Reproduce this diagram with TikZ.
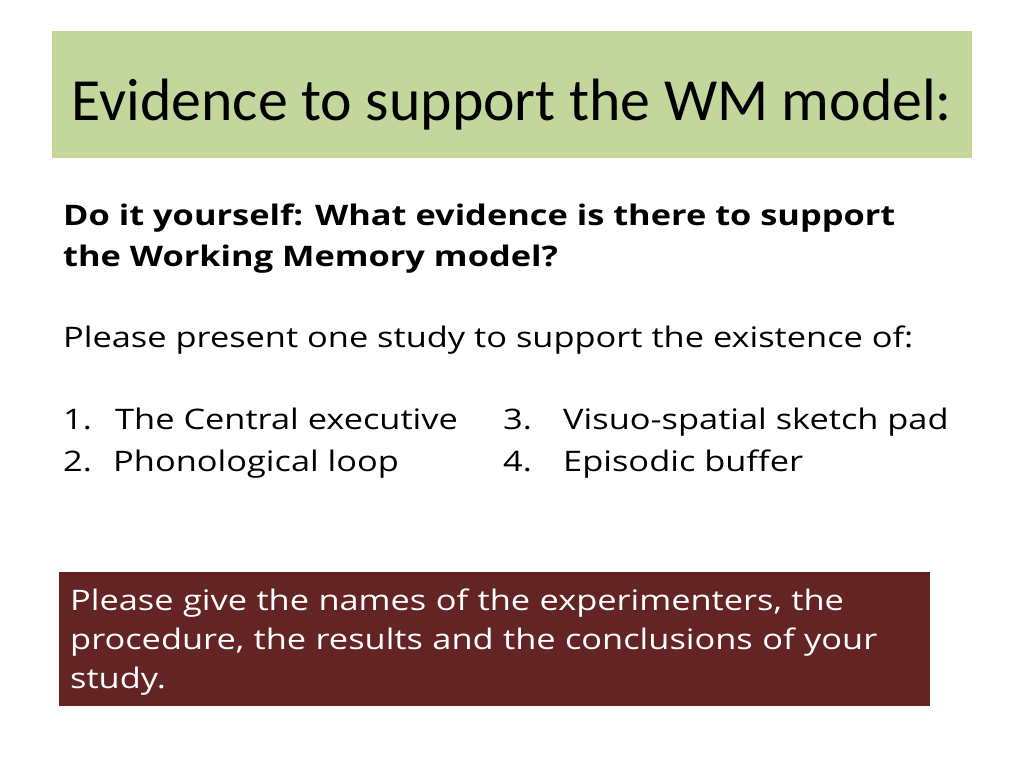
\documentclass[tikz,border=0pt]{standalone}
\usepackage{fontspec}
\setmainfont{Carlito}
\newfontfamily\comicfont[FakeStretch=1.215]{Open Sans}
\usetikzlibrary{positioning}
\definecolor{titlegreen}{RGB}{195,214,155}
\definecolor{boxred}{RGB}{99,36,35}
\tikzset{
    titlebox/.style={
           rectangle,
           fill=titlegreen,
           minimum width=920bp,
           text height=89bp,
           text depth=38bp,
           inner sep=0pt,
           font=\fontsize{60}{70}\selectfont,
           },
    asktext/.style={
           anchor=base west,
           inner sep=0pt,
           font=\comicfont\fontsize{28.4}{42}\selectfont,
           },
    askbold/.style={
           asktext,
           font=\comicfont\bfseries\fontsize{28.4}{42}\selectfont,
           },
    taskbox/.style={
           rectangle,
           fill=boxred,
           text=white,
           anchor=north west,
           minimum width=871bp,
           minimum height=134bp,
           text width=849bp,
           inner xsep=11bp,
           inner ysep=0pt,
           align=left,
           font=\comicfont\fontsize{28.4}{39}\selectfont,
           },
}
\begin{document}
\begin{tikzpicture}[x=1bp,y=-1bp]
    \useasboundingbox[fill=white] (0,0) rectangle (1024,768);
    \node[titlebox] (title) at (512,94.5) {Evidence to support the WM model:};
    % question and request
    \node[askbold] (ask1) at (63,225) {Do it yourself: What evidence is there to support};
    \node[askbold] (ask2) at (63,266) {the Working Memory model?};
    \node[asktext] (present) at (63,347) {Please present one study to support the existence of:};
    % the four components
    \node[asktext] (n1) at (63,429)  {1.};
    \node[asktext] (n2) at (63,471)  {2.};
    \node[asktext] (n3) at (503,429) {3.};
    \node[asktext] (n4) at (503,471) {4.};
    \node[asktext] (c1) at (115,429) {The Central executive};
    \node[asktext] (c2) at (113,471) {Phonological loop};
    \node[asktext] (c3) at (563,429) {Visuo-spatial sketch pad};
    \node[asktext] (c4) at (563,471) {Episodic buffer};
    % what to report
    \node[taskbox] (report) at (59,572) {\rule{0pt}{38bp}Please give the names of the experimenters, the\\
        procedure, the results and the conclusions of your\\
        study.\rule[-18bp]{0pt}{18bp}};
\end{tikzpicture}
\end{document}
